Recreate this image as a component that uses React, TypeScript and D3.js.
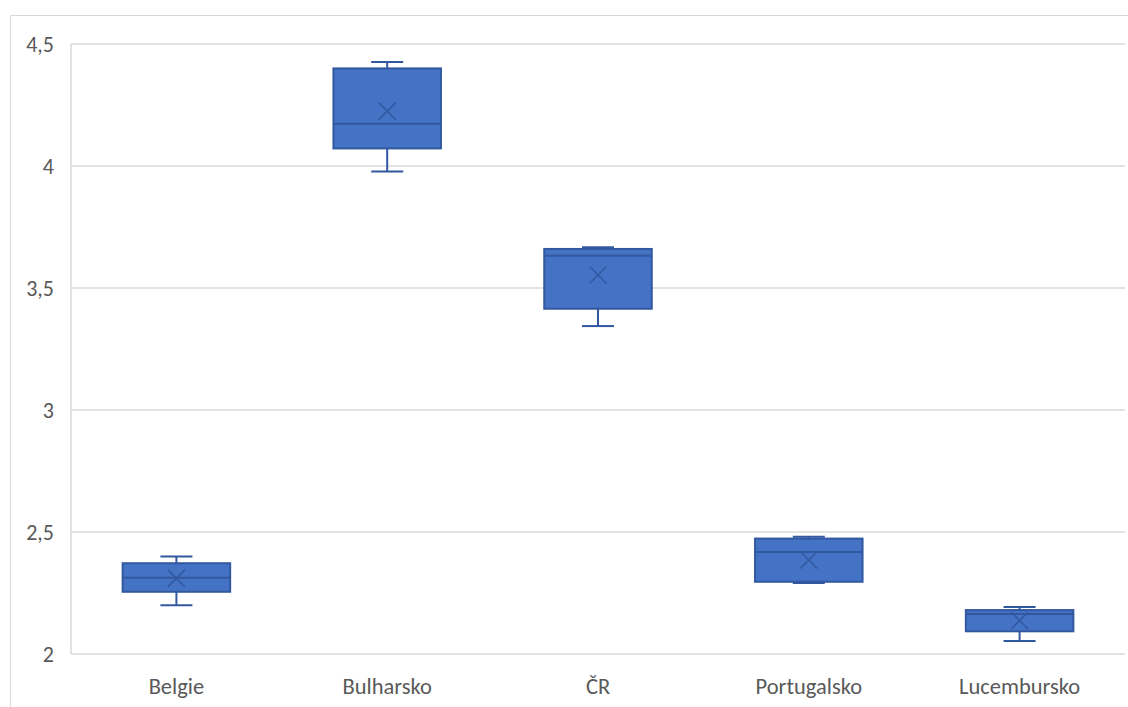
import React from "react";
import * as d3 from "d3";

const categories = ["Belgie", "Bulharsko", "ČR", "Portugalsko", "Lucembursko"];
const whiskerLow = [2.2, 3.977, 3.344, 2.291, 2.053];
const quartile1 = [2.255, 4.072, 3.415, 2.296, 2.093];
const medians = [2.313, 4.173, 3.632, 2.418, 2.164];
const quartile3 = [2.372, 4.4, 3.66, 2.473, 2.18];
const whiskerHigh = [2.4, 4.426, 3.667, 2.481, 2.193];
const means = [2.31, 4.225, 3.553, 2.385, 2.137];
const yTicks = [2, 2.5, 3, 3.5, 4, 4.5];

const W = 1128;
const H = 707;
const plot = { left: 71, right: 1125, top: 44, bottom: 654 };

const FILL = "#4472C4";
const STROKE = "#3258A0";
const GRID = "#D9D9D9";
const TEXT = "#595959";
const FONT = "Carlito, Calibri, Lato, sans-serif";

const fmt = (v: number) => String(v).replace(".", ",");

export default function App() {
  const x = d3
    .scaleBand<string>()
    .domain(categories)
    .range([plot.left, plot.right])
    .paddingInner(0)
    .paddingOuter(0);
  const y = d3.scaleLinear().domain([2, 4.5]).range([plot.bottom, plot.top]);

  const boxW = x.bandwidth() * 0.51;
  const capW = 32;
  const xr = 8.5;

  return (
    <svg
      width={W}
      height={H}
      style={{ position: "absolute", left: 0, top: 0, background: "#fff" }}
    >
      {/* chart frame */}
      <path d={`M10.5,${H} V15.5 H${W}`} fill="none" stroke={GRID} strokeWidth={1} />

      {/* horizontal gridlines */}
      {yTicks.map((t) => (
        <line
          key={`g${t}`}
          x1={plot.left}
          x2={plot.right}
          y1={y(t)}
          y2={y(t)}
          stroke={GRID}
          strokeWidth={1.5}
        />
      ))}
      <line
        x1={plot.left}
        x2={plot.left}
        y1={plot.top}
        y2={plot.bottom}
        stroke={GRID}
        strokeWidth={1.5}
      />

      {/* y tick labels */}
      {yTicks.map((t) => (
        <text
          key={`t${t}`}
          x={54}
          y={y(t)}
          dy="0.35em"
          textAnchor="end"
          fill={TEXT}
          fontFamily={FONT}
          fontSize={22}
        >
          {fmt(t)}
        </text>
      ))}

      {/* category labels */}
      {categories.map((c) => (
        <text
          key={`c${c}`}
          x={(x(c) as number) + x.bandwidth() / 2}
          y={694}
          textAnchor="middle"
          fill={TEXT}
          fontFamily={FONT}
          fontSize={22.5}
        >
          {c}
        </text>
      ))}

      {/* box plots */}
      {categories.map((c, i) => {
        const cx = (x(c) as number) + x.bandwidth() / 2;
        const yq1 = y(quartile1[i]);
        const yq3 = y(quartile3[i]);
        const ym = y(means[i]);
        return (
          <g key={`b${c}`}>
            <line x1={cx} x2={cx} y1={y(whiskerHigh[i])} y2={yq3} stroke={STROKE} strokeWidth={2} />
            <line x1={cx} x2={cx} y1={yq1} y2={y(whiskerLow[i])} stroke={STROKE} strokeWidth={2} />
            <line
              x1={cx - capW / 2}
              x2={cx + capW / 2}
              y1={y(whiskerHigh[i])}
              y2={y(whiskerHigh[i])}
              stroke={STROKE}
              strokeWidth={2}
            />
            <line
              x1={cx - capW / 2}
              x2={cx + capW / 2}
              y1={y(whiskerLow[i])}
              y2={y(whiskerLow[i])}
              stroke={STROKE}
              strokeWidth={2}
            />
            <rect
              x={cx - boxW / 2}
              y={yq3}
              width={boxW}
              height={yq1 - yq3}
              fill={FILL}
              stroke={STROKE}
              strokeWidth={2}
            />
            <line
              x1={cx - boxW / 2}
              x2={cx + boxW / 2}
              y1={y(medians[i])}
              y2={y(medians[i])}
              stroke={STROKE}
              strokeWidth={2}
            />
            <path
              d={`M${cx - xr},${ym - xr} L${cx + xr},${ym + xr} M${cx - xr},${ym + xr} L${cx + xr},${ym - xr}`}
              stroke={STROKE}
              strokeWidth={1.5}
              fill="none"
            />
          </g>
        );
      })}
    </svg>
  );
}
